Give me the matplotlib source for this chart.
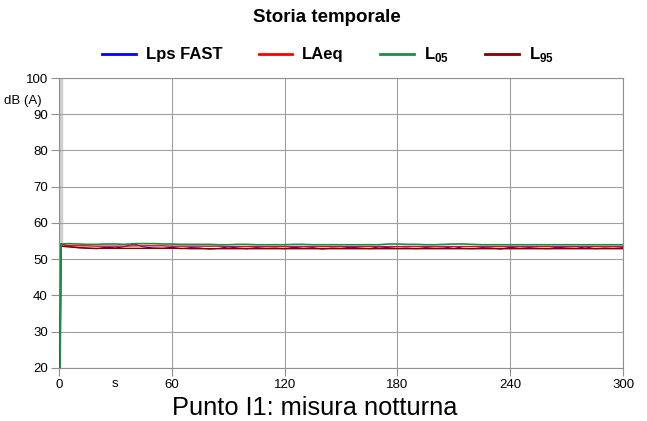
import matplotlib
matplotlib.use("Agg")
import matplotlib.pyplot as plt
from matplotlib.lines import Line2D

plt.rcParams['font.family'] = ['Liberation Sans', 'DejaVu Sans']
plt.rcParams['mathtext.fontset'] = 'custom'
plt.rcParams['mathtext.rm'] = 'Liberation Sans'
plt.rcParams['mathtext.bf'] = 'Liberation Sans:bold'

# ---------------- dati ----------------
t = [0.6, 1.0] + list(range(5, 305, 5))   # tempo (s)

lps_fast = [20.0, 54.3,
            53.6, 53.2, 53.0, 52.9, 53.3, 53.1, 53.5, 54.2, 53.4, 53.1,
            53.0, 53.3, 52.9, 53.2, 53.1, 52.8, 53.0, 53.4, 53.1, 52.9,
            53.2, 53.0, 53.1, 52.9, 53.3, 53.0, 53.2, 52.8, 53.1, 53.0,
            53.3, 53.1, 52.9, 53.4, 53.2, 53.0, 53.1, 52.9, 53.2, 53.0,
            53.1, 53.5, 53.0, 52.9, 53.2, 53.1, 52.8, 53.3, 53.0, 53.2,
            53.0, 52.9, 53.3, 53.1, 53.0, 53.4, 52.9, 53.1, 53.0, 53.2]

laeq = [20.0, 54.0,
        53.8, 53.7, 53.7, 53.6, 53.6, 53.6, 53.6, 53.7, 53.7, 53.7,
        53.7, 53.6, 53.6, 53.6, 53.6, 53.6, 53.6, 53.5, 53.5, 53.5,
        53.5, 53.5, 53.5, 53.5, 53.5, 53.5, 53.5, 53.5, 53.5, 53.5,
        53.5, 53.5, 53.5, 53.5, 53.5, 53.5, 53.5, 53.5, 53.5, 53.5,
        53.5, 53.5, 53.5, 53.5, 53.5, 53.5, 53.5, 53.5, 53.5, 53.5,
        53.5, 53.5, 53.5, 53.5, 53.5, 53.5, 53.5, 53.5, 53.5, 53.5]

l05 = [20.0, 54.2,
       54.3, 54.2, 54.1, 54.1, 54.2, 54.2, 54.1, 54.3, 54.3, 54.3,
       54.2, 54.2, 54.1, 54.1, 54.1, 54.1, 54.0, 54.0, 54.1, 54.1,
       54.0, 54.0, 54.0, 54.0, 54.1, 54.1, 54.0, 54.0, 54.0, 54.0,
       54.0, 54.0, 54.0, 54.0, 54.2, 54.2, 54.1, 54.1, 54.0, 54.0,
       54.1, 54.2, 54.2, 54.1, 54.0, 54.0, 54.0, 54.0, 54.0, 54.0,
       54.0, 54.0, 54.0, 54.0, 54.0, 54.0, 54.0, 54.0, 54.0, 54.0]

l95 = [20.0, 53.6,
       53.4, 53.2, 53.1, 53.0, 53.0, 53.0, 53.0, 53.0, 53.0, 53.0,
       53.0, 53.0, 53.0, 52.9, 52.9, 52.9, 52.9, 52.9, 52.9, 52.9,
       52.9, 52.9, 52.9, 52.9, 52.9, 52.9, 52.9, 52.9, 52.9, 52.9,
       52.9, 52.9, 52.9, 52.9, 52.9, 52.9, 52.9, 52.9, 52.9, 52.9,
       52.9, 52.9, 52.9, 52.9, 52.9, 52.9, 52.9, 52.9, 52.9, 52.9,
       52.9, 52.9, 52.9, 52.9, 52.9, 52.9, 52.9, 52.9, 52.9, 52.9]

cursor_t = 1.2          # cursore grigio all'inizio
cursor_range = [54, 100]

x_ticks = [0, 60, 120, 180, 240, 300]
y_ticks = [20, 30, 40, 50, 60, 70, 80, 90, 100]

names = ['Lps FAST', 'LAeq', r'L$_{\mathbf{05}}$', r'L$_{\mathbf{95}}$']
colors = ['#0000ff', '#ff0000', '#1e8c45', '#800000']

# ---------------- grafico ----------------
fig = plt.figure(figsize=(6.47, 4.21), dpi=100)
ax = fig.add_axes([0.0912, 0.126, 0.8718, 0.6887])

ax.vlines(cursor_t, cursor_range[0], cursor_range[1], color='#d0d0d0', lw=2.5, zorder=1)
ax.plot(t, lps_fast, color=colors[0], lw=0.8, zorder=3)
ax.plot(t, l95, color=colors[3], lw=1.0, zorder=3)
ax.plot(t, laeq, color=colors[1], lw=1.0, zorder=4)
ax.plot(t, l05, color=colors[2], lw=1.2, zorder=5)

ax.set_xlim(0, 300)
ax.set_ylim(20, 100)
ax.set_xticks(x_ticks)
ax.set_yticks(y_ticks)
ax.grid(True, color='#a0a0a0', lw=0.8)
for s in ax.spines.values():
    s.set_color('#909090')
    s.set_zorder(2)
ax.tick_params(colors='#909090', labelcolor='black', labelsize=9.5, length=6, width=0.8, pad=2)

ax.text(30, -0.035, 's', transform=ax.get_xaxis_transform(), ha='center', va='top', fontsize=9.5)
fig.text(42 / 647, 1 - 101 / 421, 'dB (A)', ha='right', va='center', fontsize=9.5)

fig.text(327 / 647, 1 - 18 / 421, 'Storia temporale', ha='center', va='center',
         fontsize=13.5, fontweight='bold')

handles = [Line2D([], [], color=c, lw=2) for c in colors]
fig.legend(handles, names, loc='center', bbox_to_anchor=(328 / 647, 1 - 55 / 421), ncol=4,
           frameon=False, handlelength=2.0, columnspacing=2.2, handletextpad=0.6,
           prop={'weight': 'bold', 'size': 12})

fig.text(315 / 647, 1 - 408 / 421, 'Punto I1: misura notturna', ha='center', va='center', fontsize=18.3)

fig.savefig('out.png', dpi=100)
